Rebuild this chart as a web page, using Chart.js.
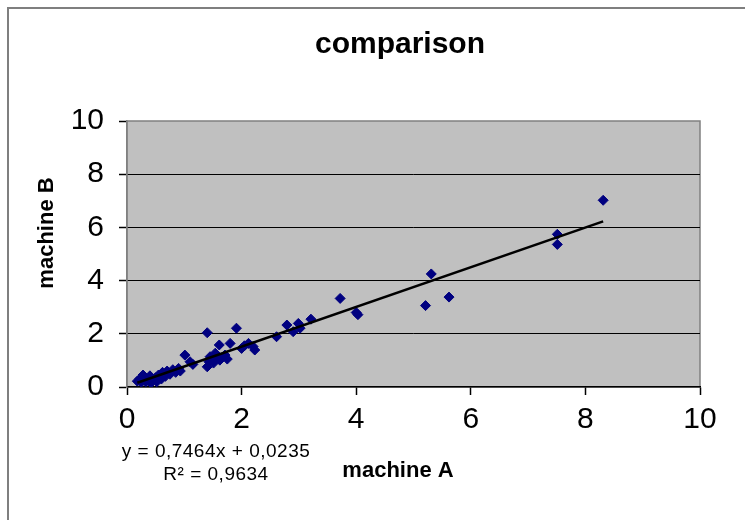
<!DOCTYPE html>
<html><head><meta charset="utf-8">
<script src="https://cdn.jsdelivr.net/npm/chart.js@4.4.1/dist/chart.umd.min.js"></script>
<style>html,body{margin:0;padding:0;background:#fff}canvas{display:block}</style>
</head><body>
<canvas id="c" width="745" height="520"></canvas>
<script>
// ---- data ----
const machineA = [0.18,0.22,0.25,0.28,0.30,0.33,0.37,0.40,0.42,0.45,0.50,0.52,0.55,0.60,0.62,0.67,0.70,0.75,0.80,0.85,0.90,0.93,1.01,1.10,1.15,
  1.40,1.40,1.43,1.45,1.50,1.51,1.54,1.58,1.61,1.62,1.66,1.71,1.75,1.80,1.91,2.00,2.05,2.12,2.20,2.23,
  2.61,2.79,2.90,2.99,3.02,3.21,3.72,4.00,4.03,5.21,5.31,5.62,7.51,7.51,8.31];
const machineB = [0.22,0.30,0.18,0.45,0.35,0.20,0.28,0.42,0.15,0.25,0.35,0.20,0.45,0.30,0.55,0.40,0.60,0.48,0.65,0.55,0.70,0.60,1.20,0.95,0.85,
  2.04,0.76,0.95,1.14,1.05,0.90,1.27,1.15,1.58,1.01,1.10,1.20,1.05,1.64,2.21,1.45,1.55,1.64,1.52,1.39,
  1.89,2.33,2.08,2.39,2.21,2.55,3.33,2.80,2.72,3.06,4.25,3.38,5.74,5.36,7.02];
const xTickValues = [0,2,4,6,8,10];
const yTickValues = [0,2,4,6,8,10];
const trendSlope = 0.7464;
const trendIntercept = 0.0235;
const trendX = [0.18, 8.31];
const chartTitle = 'comparison';
const xTitle = 'machine A';
const yTitle = 'machine B';
const equationLines = ['y = 0,7464x + 0,0235', 'R\u00B2 = 0,9634'];

const FONT = "'Liberation Sans', Arial, sans-serif";
const points = machineA.map((x, i) => ({x, y: machineB[i]}));
const trend = trendX.map(x => ({x, y: trendSlope * x + trendIntercept}));

const decor = {
  id: 'decor',
  beforeDraw(chart) {
    const {ctx, chartArea: a} = chart;
    ctx.save();
    ctx.fillStyle = '#fff';
    ctx.fillRect(0, 0, chart.width, chart.height);
    // outer frame (top + left visible)
    ctx.strokeStyle = '#7f7f7f';
    ctx.lineWidth = 2;
    ctx.beginPath();
    ctx.moveTo(8, chart.height);
    ctx.lineTo(8, 8);
    ctx.lineTo(chart.width, 8);
    ctx.stroke();
    // plot area
    ctx.fillStyle = '#c0c0c0';
    ctx.fillRect(a.left, a.top, a.right - a.left, a.bottom - a.top);
    ctx.strokeStyle = '#808080';
    ctx.lineWidth = 1.5;
    ctx.strokeRect(a.left, a.top, a.right - a.left, a.bottom - a.top);
    ctx.restore();
  },
  afterDraw(chart) {
    const {ctx} = chart;
    ctx.save();
    ctx.fillStyle = '#000';
    // equation of trend line
    ctx.font = '19px ' + FONT;
    ctx.textAlign = 'center';
    ctx.textBaseline = 'alphabetic';
    try { ctx.letterSpacing = '0.5px'; } catch (e) {}
    ctx.fillText(equationLines[0], 216, 457);
    ctx.fillText(equationLines[1], 216, 480);
    try { ctx.letterSpacing = '0px'; } catch (e) {}
    // axis titles
    ctx.font = 'bold 22px ' + FONT;
    ctx.fillText(xTitle, 398, 477);
    ctx.translate(47, 233);
    ctx.rotate(-Math.PI / 2);
    ctx.textBaseline = 'middle';
    ctx.fillText(yTitle, 0, 0);
    ctx.restore();
  }
};

new Chart(document.getElementById('c'), {
  type: 'scatter',
  data: {
    datasets: [
      {
        type: 'line',
        data: trend,
        borderColor: '#000',
        borderWidth: 2.5,
        pointRadius: 0,
        fill: false,
        tension: 0
      },
      {
        data: points,
        pointStyle: 'rectRot',
        pointRadius: 5,
        pointHoverRadius: 5,
        backgroundColor: '#000080',
        borderColor: '#000080',
        borderWidth: 1
      }
    ]
  },
  options: {
    responsive: false,
    animation: false,
    devicePixelRatio: 1,
    layout: {padding: {left: 55, right: 0, top: 0, bottom: 0}},
    plugins: {
      legend: {display: false},
      tooltip: {enabled: false},
      title: {
        display: true,
        text: chartTitle,
        color: '#000',
        font: {family: FONT, size: 30, weight: 'bold'},
        padding: {top: 27, bottom: 58}
      }
    },
    scales: {
      x: {
        type: 'linear',
        min: 0, max: 10,
        afterBuildTicks(scale) { scale.ticks = xTickValues.map(v => ({value: v})); },
        afterFit(scale) { scale.height = 133; },
        grid: {drawOnChartArea: false, drawTicks: true, tickLength: 8, tickColor: '#000', tickWidth: 1.5},
        border: {display: true, color: '#000', width: 1.5},
        ticks: {color: '#000', font: {family: FONT, size: 30}, padding: 7}
      },
      y: {
        type: 'linear',
        position: 'left',
        min: 0, max: 10,
        afterBuildTicks(scale) { scale.ticks = yTickValues.map(v => ({value: v})); },
        afterFit(scale) { scale.width = 72; },
        grid: {
          color: c => (c.tick && c.tick.value > 0 && c.tick.value < 10) ? '#000' : 'rgba(0,0,0,0)',
          lineWidth: 1,
          tickLength: 8,
          tickColor: '#000',
          tickWidth: 1.5
        },
        border: {display: true, color: '#808080', width: 1.5},
        ticks: {color: '#000', font: {family: FONT, size: 30}, padding: 15}
      },
      spacer: {
        type: 'linear',
        position: 'right',
        display: true,
        min: 0, max: 10,
        afterFit(scale) { scale.width = 45; },
        grid: {display: false},
        border: {display: false},
        ticks: {display: false}
      }
    }
  },
  plugins: [decor]
});
</script>
</body></html>
